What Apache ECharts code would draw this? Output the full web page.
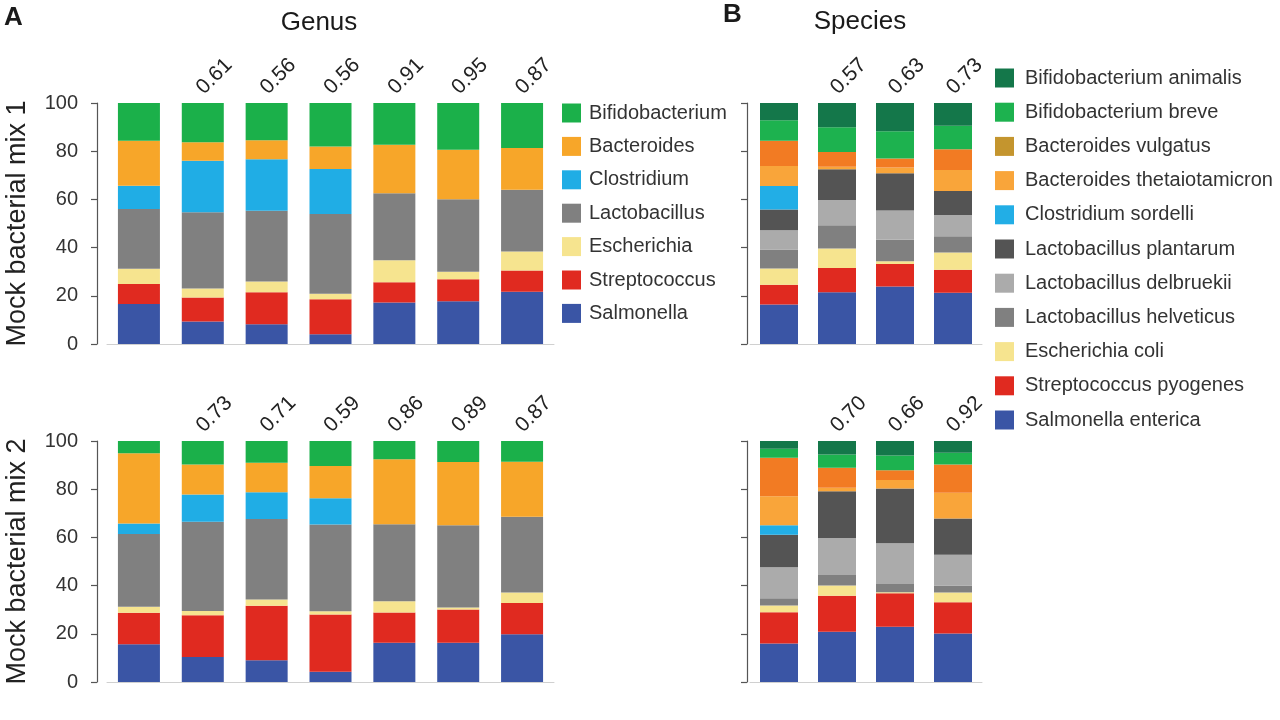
<!DOCTYPE html>
<html><head><meta charset="utf-8">
<script src="https://cdn.jsdelivr.net/npm/echarts@6/dist/echarts.min.js"></script>
<style>html,body{margin:0;padding:0;background:#fff}#c{width:1280px;height:720px}</style>
</head><body><div id="c"></div>
<script>
// ---------- DATA ----------
const genusSamples = ['Expected', 'S1', 'S2', 'S3', 'S4', 'S5', 'S6'];
const speciesSamples = ['Expected', 'S1', 'S2', 'S3'];
const yTicks = [0, 20, 40, 60, 80, 100];

// Genus names, bottom of stack to top
const genusNames = ['Salmonella', 'Streptococcus', 'Escherichia', 'Lactobacillus', 'Clostridium', 'Bacteroides', 'Bifidobacterium'];
const genusColors = ['#3a55a5', '#e02a20', '#f6e48f', '#808080', '#20ade5', '#f7a629', '#1bb04a'];

// Mock bacterial mix 1 – genus
const salmonella1 = [16.6, 9.3, 8.2, 4.0, 17.2, 17.7, 21.7];
const streptococcus1 = [8.3, 10.0, 13.3, 14.6, 8.4, 9.2, 8.8];
const escherichia1 = [6.3, 3.7, 4.4, 2.3, 9.2, 3.1, 7.9];
const lactobacillus1 = [24.8, 31.7, 29.4, 33.0, 27.8, 30.1, 25.6];
const clostridium1 = [9.7, 21.3, 21.4, 18.7, 0, 0, 0];
const bacteroides1 = [18.6, 7.7, 7.8, 9.4, 20.1, 20.5, 17.3];
const bifidobacterium1 = [15.7, 16.3, 15.5, 18.0, 17.3, 19.4, 18.7];
const genusCorr1 = [null, '0.61', '0.56', '0.56', '0.91', '0.95', '0.87'];

// Mock bacterial mix 2 – genus
const salmonella2 = [15.7, 10.4, 9.0, 4.3, 16.3, 16.3, 19.8];
const streptococcus2 = [13.0, 17.3, 22.6, 23.7, 12.5, 13.8, 13.0];
const escherichia2 = [2.5, 1.8, 2.6, 1.4, 4.7, 0.8, 4.3];
const lactobacillus2 = [30.2, 37.0, 33.4, 36.0, 32.0, 34.1, 31.5];
const clostridium2 = [4.4, 11.3, 11.1, 10.8, 0, 0, 0];
const bacteroides2 = [29.1, 12.5, 12.3, 13.4, 26.9, 26.3, 22.8];
const bifidobacterium2 = [5.1, 9.7, 9.0, 10.4, 7.6, 8.7, 8.6];
const genusCorr2 = [null, '0.73', '0.71', '0.59', '0.86', '0.89', '0.87'];

// Species names, bottom of stack to top
const speciesNames = ['Salmonella enterica', 'Streptococcus pyogenes', 'Escherichia coli', 'Lactobacillus helveticus',
  'Lactobacillus delbruekii', 'Lactobacillus plantarum', 'Clostridium sordelli', 'Bacteroides thetaiotamicron',
  'Bacteroides vulgatus', 'Bifidobacterium breve', 'Bifidobacterium animalis'];
const speciesColors = ['#3a55a5', '#e02a20', '#f6e48f', '#808080', '#ababab', '#545454', '#22aee6', '#f9a53a',
  '#c4952e', '#1db24f', '#14774a'];
const vulgatusBarColor = '#f27b23';

// Mock bacterial mix 1 – species
const sEnterica1 = [16.4, 21.5, 23.9, 21.3];
const sPyogenes1 = [8.2, 10.0, 9.3, 9.5];
const eColi1 = [6.7, 8.1, 1.1, 7.2];
const lHelveticus1 = [7.9, 9.7, 9.0, 6.7];
const lDelbruekii1 = [8.0, 10.4, 12.1, 8.8];
const lPlantarum1 = [8.6, 12.8, 15.4, 10.0];
const cSordelli1 = [9.8, 0, 0, 0];
const bThetaiotamicron1 = [8.3, 1.0, 2.4, 8.7];
const bVulgatus1 = [10.4, 6.2, 3.8, 8.6];
const bBreve1 = [8.5, 10.2, 11.3, 9.8];
const bAnimalis1 = [7.2, 10.1, 11.7, 9.4];
const speciesCorr1 = [null, '0.57', '0.63', '0.73'];

// Mock bacterial mix 2 – species
const sEnterica2 = [16.0, 20.8, 22.9, 20.1];
const sPyogenes2 = [12.9, 15.0, 13.9, 13.0];
const eColi2 = [2.8, 4.2, 0.4, 4.0];
const lHelveticus2 = [3.0, 4.4, 3.5, 2.9];
const lDelbruekii2 = [12.9, 15.3, 16.9, 12.8];
const lPlantarum2 = [13.5, 19.5, 22.7, 15.0];
const cSordelli2 = [3.9, 0, 0, 0];
const bThetaiotamicron2 = [12.1, 1.4, 3.5, 10.7];
const bVulgatus2 = [16.0, 8.3, 4.1, 11.8];
const bBreve2 = [3.7, 5.5, 6.1, 4.8];
const bAnimalis2 = [3.2, 5.6, 6.0, 4.9];
const speciesCorr2 = [null, '0.70', '0.66', '0.92'];

// ---------- CHART ----------
const FONT = '"Liberation Sans", Arial, Helvetica, sans-serif';
const genusMix1 = [salmonella1, streptococcus1, escherichia1, lactobacillus1, clostridium1, bacteroides1, bifidobacterium1];
const genusMix2 = [salmonella2, streptococcus2, escherichia2, lactobacillus2, clostridium2, bacteroides2, bifidobacterium2];
const speciesMix1 = [sEnterica1, sPyogenes1, eColi1, lHelveticus1, lDelbruekii1, lPlantarum1, cSordelli1, bThetaiotamicron1, bVulgatus1, bBreve1, bAnimalis1];
const speciesMix2 = [sEnterica2, sPyogenes2, eColi2, lHelveticus2, lDelbruekii2, lPlantarum2, cSordelli2, bThetaiotamicron2, bVulgatus2, bBreve2, bAnimalis2];

function makeSeries(names, colors, lists, axisIndex, stackId, barWidth, corr) {
  return names.map((name, i) => {
    const isTop = i === names.length - 1;
    const isVulg = name === 'Bacteroides vulgatus';
    return {
      type: 'bar', name: name, stack: stackId,
      xAxisIndex: axisIndex, yAxisIndex: axisIndex,
      barWidth: barWidth,
      itemStyle: { color: colors[i] },
      emphasis: { disabled: true },
      data: isVulg ? lists[i].map(v => ({ value: v, itemStyle: { color: vulgatusBarColor } })) : lists[i],
      label: isTop ? {
        show: true, position: 'top', distance: 15, rotate: 45, offset: [-4, 0],
        align: 'left', verticalAlign: 'middle',
        fontSize: 21, fontFamily: FONT, color: '#222',
        formatter: p => corr[p.dataIndex] || ''
      } : { show: false }
    };
  });
}

const grids = [
  { left: 107, top: 103, width: 447, height: 241 },
  { left: 107, top: 441, width: 447, height: 241 },
  { left: 750, top: 103, width: 232, height: 241 },
  { left: 750, top: 441, width: 232, height: 241 }
];

const xAxes = [0, 1, 2, 3].map(i => ({
  type: 'category', gridIndex: i, data: i < 2 ? genusSamples : speciesSamples,
  axisLabel: { show: false }, axisTick: { show: false },
  axisLine: { show: true, lineStyle: { color: '#d0d0d0', width: 1 } }
}));

const yAxes = [0, 1, 2, 3].map(i => ({
  type: 'value', gridIndex: i, min: yTicks[0], max: yTicks[yTicks.length - 1], interval: 20,
  offset: i < 2 ? 10 : 3,
  axisLine: { show: true, lineStyle: { color: '#555', width: 1.2 } },
  axisTick: { show: true, inside: false, length: 6, lineStyle: { color: '#555', width: 1.2 } },
  splitLine: { show: false },
  axisLabel: { show: i < 2, fontSize: 20, fontFamily: FONT, color: '#333', margin: 19 },
  name: i === 0 ? 'Mock bacterial mix 1' : (i === 1 ? 'Mock bacterial mix 2' : ''),
  nameLocation: 'middle', nameGap: 66,
  nameTextStyle: { fontSize: 27, fontFamily: FONT, color: '#222' }
}));

const series = [].concat(
  makeSeries(genusNames, genusColors, genusMix1, 0, 'g1', 42, genusCorr1),
  makeSeries(genusNames, genusColors, genusMix2, 1, 'g2', 42, genusCorr2),
  makeSeries(speciesNames, speciesColors, speciesMix1, 2, 's1', 38, speciesCorr1),
  makeSeries(speciesNames, speciesColors, speciesMix2, 3, 's2', 38, speciesCorr2)
);

function txt(text, x, y, size, weight, align) {
  return { type: 'text', x: x, y: y, silent: true,
    style: { text: text, fontSize: size, fontFamily: FONT, fontWeight: weight || 'normal', fill: '#1a1a1a',
      textAlign: align || 'left', align: align || 'left', textVerticalAlign: 'middle', verticalAlign: 'middle' } };
}

const option = {
  animation: false,
  backgroundColor: '#fff',
  grid: grids,
  xAxis: xAxes,
  yAxis: yAxes,
  legend: [
    { orient: 'vertical', left: 562, top: 103, padding: 0, itemWidth: 19, itemHeight: 19, itemGap: 13.4,
      icon: 'rect', selectedMode: false, data: genusNames.slice().reverse(),
      textStyle: { fontSize: 20, fontFamily: FONT, color: '#333', lineHeight: 20, padding: [0, 0, 0, 3] } },
    { orient: 'vertical', left: 995, top: 68, padding: 0, itemWidth: 19, itemHeight: 19, itemGap: 14.2,
      icon: 'rect', selectedMode: false, data: speciesNames.slice().reverse(),
      textStyle: { fontSize: 20, fontFamily: FONT, color: '#333', lineHeight: 20, padding: [0, 0, 0, 6] } }
  ],
  graphic: [
    txt('A', 4, 18, 26, 'bold'),
    txt('Genus', 319, 23, 26, 'normal', 'center'),
    txt('B', 723, 15, 26, 'bold'),
    txt('Species', 860, 22, 26, 'normal', 'center')
  ],
  series: series
};

const chart = echarts.init(document.getElementById('c'), null, { renderer: 'canvas' });
chart.setOption(option);
</script>
</body></html>
